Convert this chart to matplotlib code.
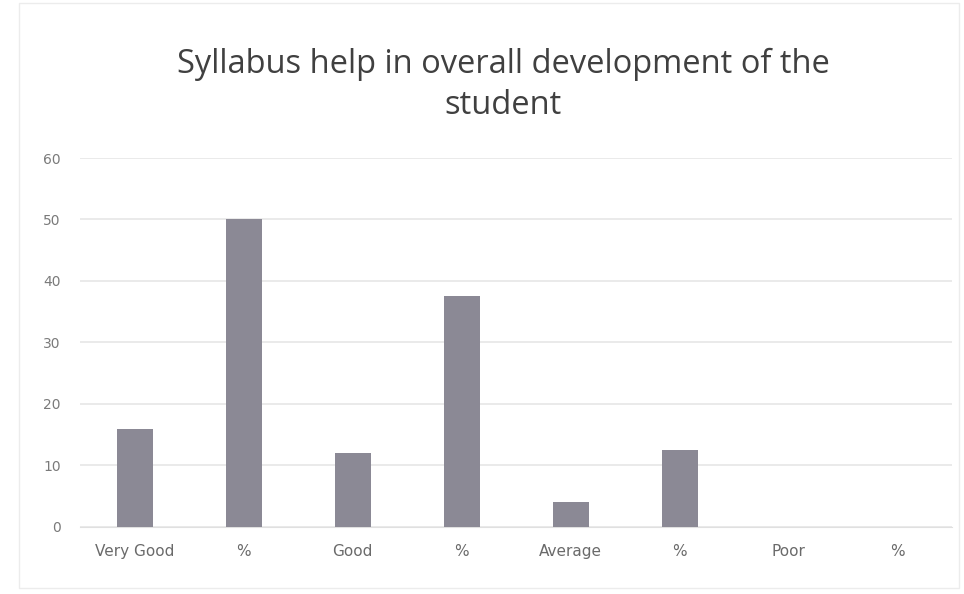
import matplotlib.pyplot as plt

categories = ["Very Good", "%", "Good", "%", "Average", "%", "Poor", "%"]
values = [16, 50, 12, 37.5, 4, 12.5, 0, 0]
yticks = [0, 10, 20, 30, 40, 50, 60]

fig = plt.figure(figsize=(9.64, 5.94), dpi=100)
ax = fig.add_axes([0.083, 0.113, 0.905, 0.621])

x = list(range(len(categories)))
ax.bar(x, values, width=0.33, color="#8b8995", zorder=3)

ax.set_xlim(-0.5, len(categories) - 0.5)
ax.set_ylim(0, 60)
ax.set_yticks(yticks)
ax.set_xticks(x)
ax.set_xticklabels(categories, fontsize=11, color="#6a6a6a")
ax.tick_params(axis="y", labelsize=10, colors="#7a7a7a", length=0, pad=14)
ax.tick_params(axis="x", length=0, pad=12)
ax.grid(axis="y", color="#e6e6e6", linewidth=1.2, zorder=0)
for s in ["top", "right", "left"]:
    ax.spines[s].set_visible(False)
ax.spines["bottom"].set_color("#e0e0e0")

fig.text(0.522, 0.857, "Syllabus help in overall development of the\nstudent",
         ha="center", va="center", fontsize=23.5, color="#404040",
         family="Open Sans", linespacing=1.3)

# faint chart border
fig.patches.append(plt.Rectangle((0.02, 0.01), 0.975, 0.985, transform=fig.transFigure,
                                 fill=False, edgecolor="#ececec", linewidth=1))

fig.savefig("out.png", dpi=100)
